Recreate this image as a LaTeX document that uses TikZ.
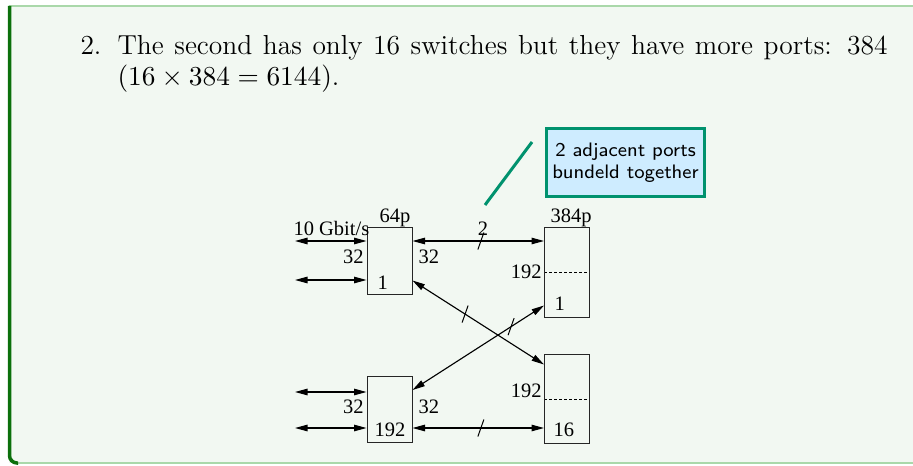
\documentclass[tikz,border=0pt]{standalone}
\usepackage{fontspec}
\newfontfamily\figfont{Liberation Serif}
\usetikzlibrary{arrows.meta}
\usetikzlibrary{decorations.markings}
\usetikzlibrary{positioning}
\pgfdeclarelayer{background}
\pgfdeclarelayer{edgelayer}
\pgfdeclarelayer{nodelayer}
\pgfsetlayers{background,edgelayer,main,nodelayer}
\definecolor{blockbg}{RGB}{242,248,242}
\definecolor{blockrule}{RGB}{170,216,170}
\definecolor{blockbar}{RGB}{12,112,12}
\definecolor{notebg}{RGB}{206,236,255}
\definecolor{notedraw}{RGB}{0,146,110}
\tikzstyle{every picture}=[x=0.4pt,y=-0.4pt]
\tikzstyle{sw}=[draw=black!85,line width=0.4pt,inner sep=0pt,minimum width=18pt]
\tikzstyle{sw64}=[sw,minimum height=26.4pt]
\tikzstyle{sw384}=[sw,minimum height=35.6pt]
\tikzstyle{lbl}=[inner sep=0pt,font=\figfont\fontsize{8.2}{9.6}\selectfont]
\tikzstyle{txt}=[inner sep=0pt,font=\fontsize{11}{13.6}\selectfont]
\tikzstyle{port}=[{Triangle[length=5pt,width=2.6pt]}-{Triangle[length=5pt,width=2.6pt]},line width=0.45pt]
\tikzstyle{split}=[densely dashed,dash pattern=on 1.2pt off 0.8pt,line width=0.4pt]
\tikzstyle{note}=[draw=notedraw,fill=notebg,line width=1.2pt,minimum width=63.2pt,minimum height=27.2pt,align=center,inner sep=0pt,font=\sffamily\fontsize{7.8}{8.8}\selectfont]
\tikzset{
	bundle/.style={postaction={decorate,decoration={markings,
		mark=at position #1 with {\pgftransformresetnontranslations
			\draw[-,line width=0.4pt] (-1.2pt,-3.4pt) -- (1.2pt,3.4pt);}}}}
}
\begin{document}
\begin{tikzpicture}
	\useasboundingbox (0,0) rectangle (913,466);
	\begin{pgfonlayer}{background}
		\fill[blockbg] (9,6) rectangle (913,463);
		\draw[blockrule,line width=0.5pt] (9,6) -- (913,6);
		\draw[blockrule,line width=0.5pt] (16,463) -- (913,463);
		\draw[blockbar,line width=1.4pt,rounded corners=3pt] (9.5,6) -- (9.5,463) -- (18,463);
	\end{pgfonlayer}
	% item text
	\node [style=txt,anchor=base west] (item) at (80,55) {2.};
	\node [style=txt,anchor=base west] (line1) at (117,55) {\makebox[308pt][s]{The second has only 16 switches but they have more ports: 384}};
	\node [style=txt,anchor=base west] (line2) at (117,86) {$(16\times384=6144)$.};
	\begin{pgfonlayer}{nodelayer}
		\node [style=sw64] (tl) at (389.5, 261) {};
		\node [style=sw64] (bl) at (389.5, 409.5) {};
		\node [style=sw384] (tr) at (567, 272.5) {};
		\node [style=sw384] (br) at (567, 398.5) {};
		\node [style=note] (note) at (625.5, 162.5) {2 adjacent ports\\bundeld together};
		\coordinate (in1) at (295, 241);
		\coordinate (in2) at (295, 280);
		\coordinate (in3) at (295, 392);
		\coordinate (in4) at (295, 428);
		\coordinate (nt1) at (485, 205);
		\coordinate (nt2) at (532, 142);
		% labels
		\node [style=lbl,anchor=base] at (395, 222) {64p};
		\node [style=lbl,anchor=base] at (571, 222) {384p};
		\node [style=lbl,anchor=base west] at (293, 235) {10 Gbit/s};
		\node [style=lbl,anchor=base east] at (364, 263) {32};
		\node [style=lbl,anchor=base west] at (377, 289) {1};
		\node [style=lbl,anchor=base west] at (418, 263) {32};
		\node [style=lbl,anchor=base] at (483, 235) {2};
		\node [style=lbl,anchor=base east] at (542, 278) {192};
		\node [style=lbl,anchor=base west] at (554, 310) {1};
		\node [style=lbl,anchor=base east] at (364, 413) {32};
		\node [style=lbl,anchor=base west] at (418, 413) {32};
		\node [style=lbl,anchor=base] at (390, 436) {192};
		\node [style=lbl,anchor=base east] at (542, 397) {192};
		\node [style=lbl,anchor=base west] at (553, 436) {16};
	\end{pgfonlayer}
	\begin{pgfonlayer}{edgelayer}
		\draw[style=split] (tr.west |- 0,272) -- (tr.east |- 0,272);
		\draw[style=split] (br.west |- 0,399) -- (br.east |- 0,399);
		\draw[style=port] (in1) to (in1 -| tl.west);
		\draw[style=port] (in2) to (in2 -| tl.west);
		\draw[style=port] (in3) to (in3 -| bl.west);
		\draw[style=port] (in4) to (in4 -| bl.west);
		\draw[style=port,bundle=0.52] (tl.east |- in1) to (tr.west |- in1);
		\draw[style=port,bundle=0.52] (bl.east |- in4) to (br.west |- in4);
		\draw[style=port,bundle=0.4] ([yshift=5.6pt]tl.south east) to ([yshift=-4.4pt]br.north west);
		\draw[style=port,bundle=0.75] ([yshift=-5.6pt]bl.north east) to ([yshift=4.8pt]tr.south west);
		\draw[notedraw,line width=1.2pt] (nt1) to (nt2);
	\end{pgfonlayer}
\end{tikzpicture}
\end{document}
